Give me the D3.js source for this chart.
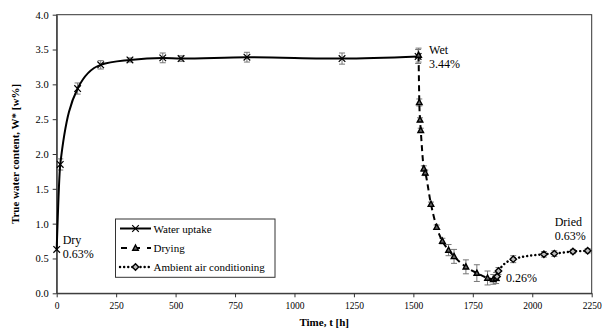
<!DOCTYPE html>
<html><head><meta charset="utf-8">
<script src="https://cdn.jsdelivr.net/npm/d3@7"></script>
<style>body{margin:0;background:#fff}svg{display:block}</style>
</head><body><svg id="c" width="602" height="331"></svg>
<script>
const uptakeT = [0, 15, 88, 185, 308, 446, 523, 800, 1200, 1520];
const uptakeW = [0.63, 1.85, 2.94, 3.28, 3.35, 3.38, 3.37, 3.39, 3.37, 3.40];
const uptakeE = [0, 0.08, 0.08, 0.06, 0.03, 0.07, 0.04, 0.07, 0.08, 0.10];

const dryingT = [1522, 1525, 1528, 1531, 1544, 1550, 1574, 1598, 1622, 1648, 1671, 1721, 1767, 1812, 1836, 1848];
const dryingW = [3.42, 2.74, 2.49, 2.34, 1.79, 1.73, 1.28, 0.95, 0.75, 0.62, 0.53, 0.38, 0.29, 0.22, 0.20, 0.22];
const dryingE = [0.10, 0.05, 0.03, 0.03, 0.04, 0.04, 0.03, 0.03, 0.04, 0.08, 0.10, 0.10, 0.12, 0.10, 0.07, 0.08];

const ambientT = [1852, 1858, 1920, 2049, 2093, 2171, 2233];
const ambientW = [0.24, 0.32, 0.49, 0.56, 0.57, 0.60, 0.61];
const ambientE = [0.06, 0.05, 0.05, 0.04, 0.04, 0.03, 0.03];

const xTicks = [0, 250, 500, 750, 1000, 1250, 1500, 1750, 2000, 2250];
const yTicks = [0, 0.5, 1, 1.5, 2, 2.5, 3, 3.5, 4];
const legendLabels = ["Water uptake", "Drying", "Ambient air conditioning"];
const annotations = [
  {t: 0, w: 0.63, lines: ["Dry", "0.63%"], dx: 6, dy: -5},
  {t: 1520, w: 3.40, lines: ["Wet", "3.44%"], dx: 11, dy: -2},
  {t: 2233, w: 0.61, lines: ["Dried", "0.63%"], dx: -33, dy: -25},
  {t: 1860, w: 0.24, lines: ["0.26%"], dx: 7, dy: 5}
];

const FONT = "Liberation Serif";
const svg = d3.select("#c");
svg.style("font-family", FONT);
const L = 56.7, R = 591.7, T = 14.7, B = 293.3;
const x = d3.scaleLinear().domain([0, 2250]).range([L, R]);
const y = d3.scaleLinear().domain([0, 4]).range([B, T]);

svg.append("rect").attr("x", L).attr("y", T).attr("width", R - L).attr("height", B - T)
  .attr("fill", "none").attr("stroke", "#333").attr("stroke-width", 1);

const xa = svg.append("g").attr("transform", `translate(0,${B})`)
  .call(d3.axisBottom(x).tickValues(xTicks).tickSize(4).tickSizeOuter(0).tickPadding(5).tickFormat(d3.format("d")));
xa.selectAll("text").attr("font-size", 9.5).attr("fill", "#000");
const ya = svg.append("g").attr("transform", `translate(${L},0)`)
  .call(d3.axisLeft(y).tickValues(yTicks).tickSize(4).tickSizeOuter(0).tickPadding(4).tickFormat(d3.format(".1f")));
ya.selectAll("text").attr("font-size", 10.5).attr("fill", "#000");
[xa, ya].forEach(a => { a.select(".domain").attr("stroke", "#333"); a.selectAll(".tick line").attr("stroke", "#333"); a.attr("font-family", null); });
svg.selectAll("text").style("font-family", FONT);

svg.append("text").attr("x", (L + R) / 2).attr("y", 326).attr("text-anchor", "middle").style("font-family", FONT)
  .attr("font-size", 11).attr("font-weight", "bold").text("Time, t [h]");
svg.append("text").attr("transform", `translate(19,${(T + B) / 2}) rotate(-90)`).attr("text-anchor", "middle").style("font-family", FONT)
  .attr("font-size", 11).attr("font-weight", "bold").text("True water content, W* [w%]");

function series(ts, ws, es) { return ts.map((t, i) => ({t, w: ws[i], e: es[i]})); }
const up = series(uptakeT, uptakeW, uptakeE);
const dr = series(dryingT, dryingW, dryingE);
const am = series(ambientT, ambientW, ambientE);

const line = d3.line().x(d => x(d.t)).y(d => y(d.w)).curve(d3.curveMonotoneX);

function errBars(data) {
  const g = svg.append("g").attr("stroke", "#777").attr("stroke-width", 1).attr("fill", "none");
  data.filter(d => d.e > 0).forEach(d => {
    const cx = x(d.t), y1 = y(d.w + d.e), y2 = y(d.w - d.e);
    g.append("line").attr("x1", cx).attr("x2", cx).attr("y1", y1).attr("y2", y2);
    g.append("line").attr("x1", cx - 3).attr("x2", cx + 3).attr("y1", y1).attr("y2", y1);
    g.append("line").attr("x1", cx - 3).attr("x2", cx + 3).attr("y1", y2).attr("y2", y2);
  });
}
errBars(up); errBars(dr); errBars(am);

svg.append("path").attr("d", line(up)).attr("fill", "none").attr("stroke", "#000").attr("stroke-width", 2);
svg.append("path").attr("d", line(dr)).attr("fill", "none").attr("stroke", "#000").attr("stroke-width", 2).attr("stroke-dasharray", "6,4");
const amLine = [dr[dr.length - 1]].concat(am);
svg.append("path").attr("d", line(amLine)).attr("fill", "none").attr("stroke", "#000").attr("stroke-width", 2.4)
  .attr("stroke-dasharray", "0.1,4").attr("stroke-linecap", "round");

function xMark(g, cx, cy) {
  g.append("path").attr("d", `M${cx-3.3},${cy-3.3}L${cx+3.3},${cy+3.3}M${cx-3.3},${cy+3.3}L${cx+3.3},${cy-3.3}`)
    .attr("stroke", "#000").attr("stroke-width", 1.2).attr("fill", "none");
}
function triMark(g, cx, cy) {
  g.append("path").attr("d", `M${cx},${cy-3}L${cx+2.8},${cy+2.2}L${cx-2.8},${cy+2.2}Z`)
    .attr("stroke", "#000").attr("stroke-width", 1.4).attr("fill", "#666");
}
function diaMark(g, cx, cy) {
  g.append("path").attr("d", `M${cx},${cy-3.2}L${cx+3.2},${cy}L${cx},${cy+3.2}L${cx-3.2},${cy}Z`)
    .attr("stroke", "#000").attr("stroke-width", 1.4).attr("fill", "#bbb");
}
const mg = svg.append("g");
up.forEach(d => xMark(mg, x(d.t), y(d.w)));
dr.forEach(d => triMark(mg, x(d.t), y(d.w)));
am.forEach(d => diaMark(mg, x(d.t), y(d.w)));

annotations.forEach(a => {
  const t = svg.append("text").attr("font-size", 12).attr("fill", "#000").style("font-family", FONT);
  a.lines.forEach((s, i) => t.append("tspan").attr("x", x(a.t) + a.dx).attr("y", y(a.w) + a.dy + i * 14).text(s));
});

const lg = svg.append("g");
lg.append("rect").attr("x", 115.5).attr("y", 219).attr("width", 159.5).attr("height", 58.3)
  .attr("fill", "#fff").attr("stroke", "#333").attr("stroke-width", 1);
const rows = [228.5, 248, 267];
const styles = [
  {dash: null, w: 2, cap: "butt", mark: xMark},
  {dash: "6,7", w: 2, cap: "butt", mark: triMark},
  {dash: "0.1,4", w: 2.4, cap: "round", mark: diaMark}
];
legendLabels.forEach((s, i) => {
  const cy = rows[i];
  const p = lg.append("line").attr("x1", 120).attr("x2", 151).attr("y1", cy).attr("y2", cy)
    .attr("stroke", "#000").attr("stroke-width", styles[i].w).attr("stroke-linecap", styles[i].cap);
  if (styles[i].dash) p.attr("stroke-dasharray", styles[i].dash);
  if (i === 1) p.attr("stroke-dashoffset", -1);
  styles[i].mark(lg, 135.5, cy);
  lg.append("text").attr("x", 153.5).attr("y", cy + 4).attr("font-size", 11).style("font-family", FONT).text(s);
});
</script></body></html>
